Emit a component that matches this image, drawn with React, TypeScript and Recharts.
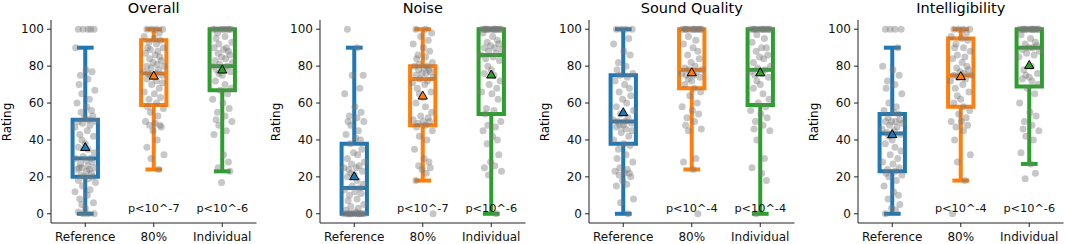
import React from "react";
import {
  ComposedChart,
  XAxis,
  YAxis,
  Scatter,
  ReferenceArea,
  ReferenceLine,
} from "recharts";

const categories = ["Reference", "80%", "Individual"];
const colors = ["#1f77b4", "#ff7f0e", "#2ca02c"];
const yTicks = [0, 20, 40, 60, 80, 100];
const font = "'DejaVu Sans', sans-serif";

// [whisker low, q1, median, q3, whisker high]
const overallBoxes = [[0, 20, 30, 51, 90], [24, 59, 76, 94, 100], [23, 67, 80, 100, 100]];
const noiseBoxes = [[0, 0, 14, 38, 90], [18, 48, 73, 80, 100], [0, 54, 86, 100, 100]];
const soundBoxes = [[0, 38, 50, 75, 100], [24, 68, 78, 100, 100], [0, 59, 78, 100, 100]];
const intelBoxes = [[0, 23, 43.5, 54, 90], [18, 58, 75, 95, 100], [27, 69, 90, 100, 100]];

const overallMeans = [36, 74.7, 78];
const noiseMeans = [20.2, 63.9, 75.3];
const soundMeans = [54.9, 76.5, 76.5];
const intelMeans = [43, 74.4, 80.5];

const overallP = ["p<10^-7", "p<10^-6"];
const noiseP = ["p<10^-7", "p<10^-6"];
const soundP = ["p<10^-4", "p<10^-4"];
const intelP = ["p<10^-4", "p<10^-6"];

// individual ratings (approximate)
const overallRef = [100, 100, 100, 100, 100, 90, 78, 77, 75, 73, 70, 67, 65, 62, 60, 58, 56, 55, 53, 52, 51, 50, 50, 49, 48, 47, 45, 43, 42, 40, 38, 36, 35, 33, 31, 30, 30, 29, 28, 27, 26, 25, 25, 25, 24, 24, 23, 22, 21, 20, 20, 19, 18, 17, 15, 13, 12, 10, 8, 6, 5, 3, 1, 0, 0, 0];
const overall80 = [100, 100, 100, 100, 98, 96, 95, 94, 93, 92, 90, 90, 89, 88, 87, 86, 85, 84, 83, 82, 81, 80, 80, 79, 78, 77, 76, 76, 75, 75, 74, 73, 72, 71, 70, 68, 66, 65, 63, 62, 60, 58, 57, 55, 53, 50, 49, 48, 48, 47, 45, 40, 36, 32, 30, 24];
const overallInd = [100, 100, 100, 100, 100, 100, 100, 100, 98, 96, 95, 93, 92, 90, 90, 89, 88, 87, 86, 85, 84, 83, 82, 81, 80, 80, 79, 78, 77, 76, 75, 72, 70, 68, 67, 65, 62, 60, 57, 55, 53, 51, 50, 48, 45, 43, 32, 28, 25, 23, 17];

const noiseRef = [100, 90, 75, 75, 68, 65, 58, 55, 53, 52, 50, 50, 48, 45, 43, 41, 40, 38, 35, 33, 32, 30, 28, 27, 26, 25, 25, 24, 23, 22, 21, 20, 18, 16, 15, 14, 13, 12, 11, 10, 8, 7, 5, 4, 3, 2, 1, 0, 0, 0, 0, 0, 0, 0, 0, 0, 0, 0, 0];
const noise80 = [100, 100, 98, 96, 94, 92, 90, 88, 86, 85, 84, 82, 81, 80, 80, 79, 78, 78, 77, 76, 76, 75, 74, 73, 72, 71, 70, 68, 66, 65, 63, 60, 58, 55, 53, 52, 51, 50, 50, 49, 48, 47, 45, 42, 40, 35, 30, 28, 26, 25, 24, 22, 18, 0];
const noiseInd = [100, 100, 100, 100, 100, 100, 100, 100, 100, 100, 100, 100, 100, 100, 98, 96, 94, 93, 92, 91, 90, 90, 89, 88, 87, 86, 85, 84, 83, 80, 78, 76, 75, 72, 70, 68, 66, 65, 62, 57, 56, 54, 50, 48, 47, 45, 42, 40, 38, 32, 28, 26, 25, 23, 21, 0];

const soundRef = [100, 100, 100, 100, 95, 92, 88, 86, 82, 80, 78, 76, 75, 74, 72, 70, 68, 66, 64, 62, 60, 58, 56, 54, 52, 51, 50, 50, 49, 48, 48, 47, 46, 45, 44, 42, 40, 38, 37, 35, 32, 30, 28, 25, 24, 23, 22, 22, 21, 20, 18, 16, 15, 8, 6, 0];
const sound80 = [100, 100, 100, 100, 100, 100, 100, 100, 100, 100, 100, 100, 96, 94, 92, 90, 88, 86, 84, 82, 80, 79, 78, 78, 77, 76, 75, 75, 74, 73, 72, 70, 68, 66, 64, 60, 58, 56, 54, 52, 50, 48, 46, 45, 30, 28, 24, 0];
const soundInd = [100, 100, 100, 100, 100, 100, 100, 100, 100, 100, 100, 100, 97, 95, 93, 90, 90, 88, 86, 85, 84, 82, 80, 79, 78, 77, 76, 75, 74, 72, 70, 68, 65, 62, 60, 58, 56, 54, 52, 50, 48, 46, 45, 40, 30, 25, 22, 18, 0];

const intelRef = [100, 100, 100, 100, 90, 80, 78, 75, 72, 70, 68, 65, 60, 58, 56, 55, 54, 52, 51, 50, 50, 50, 49, 48, 47, 46, 45, 44, 43, 42, 40, 38, 36, 34, 32, 30, 28, 27, 25, 24, 23, 22, 21, 20, 18, 15, 12, 10, 8, 5, 3, 2, 0];
const intel80 = [100, 100, 100, 100, 98, 96, 95, 94, 92, 90, 90, 88, 86, 85, 84, 82, 80, 79, 78, 77, 76, 75, 75, 74, 73, 72, 70, 68, 66, 64, 62, 60, 58, 56, 54, 52, 50, 50, 48, 47, 45, 40, 32, 28, 18, 0];
const intelInd = [100, 100, 100, 100, 100, 100, 100, 100, 100, 100, 100, 100, 100, 100, 97, 95, 93, 92, 91, 90, 90, 89, 88, 87, 86, 85, 80, 78, 76, 75, 74, 73, 72, 70, 68, 65, 60, 55, 53, 50, 48, 46, 45, 42, 40, 33, 27, 22, 19];

// horizontal strip jitter, in category units
const jitter = [-0.1, 0.04, 0.13, -0.03, 0.08, -0.14, 0.01, 0.1, -0.07, 0.04, -0.09, 0.14, -0.05, 0.06, -0.12, 0.02, 0.09, -0.06, 0.11, -0.01, 0.05, -0.1, 0.15, -0.04, 0.07, -0.15, 0.03, -0.08, 0.12, -0.05, 0.0];

const panels = [
  { title: "Overall", boxes: overallBoxes, means: overallMeans, p: overallP, points: [overallRef, overall80, overallInd] },
  { title: "Noise", boxes: noiseBoxes, means: noiseMeans, p: noiseP, points: [noiseRef, noise80, noiseInd] },
  { title: "Sound Quality", boxes: soundBoxes, means: soundMeans, p: soundP, points: [soundRef, sound80, soundInd] },
  { title: "Intelligibility", boxes: intelBoxes, means: intelMeans, p: intelP, points: [intelRef, intel80, intelInd] },
];

const PANEL_W = 269;
const AXIS_W = 51;
const PLOT_W = 205.5;
const P_LABEL_Y = 1;
const BOX_HALF = 0.185;
const CAP_HALF = 0.093;
const LW = 4;

const Dot = (props: any) => (
  <circle cx={props.cx} cy={props.cy} r={3.5} fill="#7a7a7a" fillOpacity={0.42} />
);

const Triangle = (props: any) => {
  const { cx, cy, payload } = props;
  return (
    <polygon
      points={`${cx},${cy - 4.8} ${cx - 4.6},${cy + 3.2} ${cx + 4.6},${cy + 3.2}`}
      fill={colors[payload.g]}
      stroke="#000"
      strokeWidth={1}
    />
  );
};

const PText = (props: any) => (
  <text x={props.cx} y={props.cy} textAnchor="middle" fontSize={11.3} fontFamily={font} fill="#111">
    {props.payload.label}
  </text>
);

function Panel({ panel, index }: { panel: (typeof panels)[number]; index: number }) {
  const left = index * PANEL_W;
  const pointData = panel.points.flatMap((vals, g) =>
    vals.map((y, i) => ({ x: g + 1 + jitter[i % jitter.length], y }))
  );
  const meanData = panel.means.map((y, g) => ({ x: g + 1, y, g }));
  const pData = panel.p.map((label, i) => ({ x: i + 2, y: P_LABEL_Y, label }));

  return (
    <div style={{ position: "absolute", left, top: 0, width: PANEL_W, height: 244 }}>
      <div
        style={{
          position: "absolute",
          left: AXIS_W,
          width: PLOT_W,
          top: 0,
          textAlign: "center",
          fontFamily: font,
          fontSize: 14.5,
          lineHeight: "16px",
          color: "#000",
        }}
      >
        {panel.title}
      </div>
      <div
        style={{
          position: "absolute",
          left: 7,
          top: 121.5,
          transform: "translate(-50%, -50%) rotate(-90deg)",
          fontFamily: font,
          fontSize: 12,
          lineHeight: "14px",
          whiteSpace: "nowrap",
        }}
      >
        Rating
      </div>
      <ComposedChart
        width={PANEL_W}
        height={244}
        margin={{ top: 20, right: PANEL_W - AXIS_W - PLOT_W, bottom: 0, left: 0 }}
        style={{ position: "absolute", left: 0, top: 0 }}
      >
        <XAxis
          type="number"
          dataKey="x"
          domain={[0.5, 3.5]}
          ticks={[1, 2, 3]}
          interval={0}
          allowDataOverflow
          tickFormatter={(v: number) => categories[v - 1]}
          height={21}
          tickSize={4}
          tickMargin={5}
          stroke="#222"
          tick={{ fill: "#111", fontSize: 12, fontFamily: font }}
        />
        <YAxis
          type="number"
          dataKey="y"
          domain={[-5, 105]}
          ticks={yTicks}
          interval={0}
          allowDataOverflow
          width={AXIS_W}
          tickSize={4}
          tickMargin={3}
          stroke="#222"
          tick={{ fill: "#111", fontSize: 12, fontFamily: font }}
        />
        {panel.boxes.map(([lo, q1, med, q3, hi], g) => {
          const x = g + 1;
          const c = colors[g];
          return (
            <React.Fragment key={g}>
              <ReferenceLine segment={[{ x, y: lo }, { x, y: q1 }]} stroke={c} strokeWidth={LW} />
              <ReferenceLine segment={[{ x, y: q3 }, { x, y: hi }]} stroke={c} strokeWidth={LW} />
              <ReferenceLine
                segment={[{ x: x - CAP_HALF, y: lo }, { x: x + CAP_HALF, y: lo }]}
                stroke={c}
                strokeWidth={LW}
                strokeLinecap="square"
              />
              <ReferenceLine
                segment={[{ x: x - CAP_HALF, y: hi }, { x: x + CAP_HALF, y: hi }]}
                stroke={c}
                strokeWidth={LW}
                strokeLinecap="square"
              />
              <ReferenceArea
                x1={x - BOX_HALF}
                x2={x + BOX_HALF}
                y1={q1}
                y2={q3}
                fill="none"
                fillOpacity={0}
                stroke={c}
                strokeWidth={LW}
              />
              <ReferenceLine
                segment={[{ x: x - BOX_HALF, y: med }, { x: x + BOX_HALF, y: med }]}
                stroke={c}
                strokeWidth={LW}
              />
            </React.Fragment>
          );
        })}
        <Scatter data={pointData} shape={Dot} isAnimationActive={false} />
        <Scatter data={meanData} shape={Triangle} isAnimationActive={false} />
        <Scatter data={pData} shape={PText} isAnimationActive={false} />
      </ComposedChart>
    </div>
  );
}

export default function App() {
  return (
    <div style={{ position: "absolute", left: 0, top: 0, width: 1065, height: 244, background: "#fff" }}>
      {panels.map((panel, i) => (
        <Panel key={panel.title} panel={panel} index={i} />
      ))}
    </div>
  );
}
